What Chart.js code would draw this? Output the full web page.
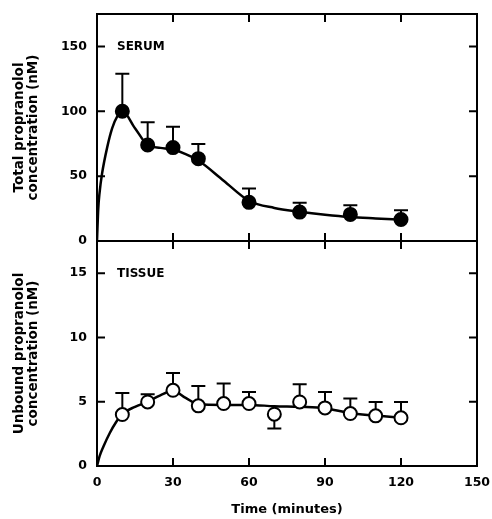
<!DOCTYPE html>
<html><head><meta charset="utf-8">
<script src="https://cdn.jsdelivr.net/npm/chart.js@4.4.1/dist/chart.umd.min.js"></script>
<style>
html,body{margin:0;padding:0;background:#fff;width:492px;height:519px;overflow:hidden}
#top{position:absolute;left:0;top:0;width:492px;height:250px}
#bot{position:absolute;left:0;top:230px;width:492px;height:289px}
canvas{display:block}
</style></head><body>
<div id="top"><canvas id="c1" width="492" height="250"></canvas></div>
<div id="bot"><canvas id="c2" width="492" height="289"></canvas></div>
<script>
// ---- data ----
const serumTime = [10, 20, 30, 40, 60, 80, 100, 120];
const serumMean = [100, 74, 72, 63.5, 29.8, 22.3, 20.5, 16.6];
const serumErrTop = [129, 91.5, 88, 74.8, 40.5, 29.5, 27.5, 23.8];
const serumFitTime  = [0, 0.5, 1, 2, 4, 6, 8, 10, 15, 20, 25, 30, 35, 40, 50, 60, 70, 80, 90, 100, 110, 120];
const serumFitValue = [0, 25, 37, 52, 72, 87, 96, 100, 87, 74, 71.8, 70.5, 67, 62, 46.5, 31, 25.5, 22.6, 20.3, 18.5, 17.4, 16.4];

const tissueTime = [10, 20, 30, 40, 50, 60, 70, 80, 90, 100, 110, 120];
const tissueMean = [4.0, 4.98, 5.89, 4.68, 4.86, 4.86, 4.03, 4.98, 4.52, 4.08, 3.9, 3.75];
const tissueErrEnd = [5.68, 5.58, 7.23, 6.22, 6.41, 5.76, 2.92, 6.36, 5.76, 5.25, 4.98, 4.98];
const tissueFitTime  = [0, 1, 2.5, 5, 7.5, 10, 15, 20, 25, 30, 35, 40, 50, 60, 70, 80, 90, 100, 110, 120];
const tissueFitValue = [0, 0.75, 1.5, 2.55, 3.4, 4.05, 4.6, 5.0, 5.5, 5.85, 5.3, 4.8, 4.75, 4.75, 4.65, 4.6, 4.5, 4.1, 3.92, 3.75];

const xTicks = [0, 30, 60, 90, 120, 150];
const serumTicks = [0, 50, 100, 150];
const tissueTicks = [0, 5, 10, 15];

const FONT = '"DejaVu Sans", sans-serif';
const toXY = (xs, ys) => xs.map((x, i) => ({x, y: ys[i]}));
const zeroPad = s => { s.paddingTop = 0; s.paddingBottom = 0; s.paddingLeft = 0; s.paddingRight = 0; };

const panelDecor = {
  id: 'panelDecor',
  beforeDatasetsDraw(chart, args, opts) {
    const ctx = chart.ctx, xs = chart.scales.x, ys = chart.scales.y;
    ctx.save();
    ctx.strokeStyle = '#000'; ctx.lineWidth = 2; ctx.lineCap = 'butt';
    opts.errT.forEach((t, i) => {
      const x = xs.getPixelForValue(t);
      const y0 = ys.getPixelForValue(opts.errMean[i]);
      const y1 = ys.getPixelForValue(opts.errEnd[i]);
      ctx.beginPath();
      ctx.moveTo(x, y0); ctx.lineTo(x, y1);
      ctx.moveTo(x - 7, y1); ctx.lineTo(x + 7, y1);
      ctx.stroke();
    });
    ctx.restore();
  },
  afterDraw(chart, args, opts) {
    const ctx = chart.ctx, a = chart.chartArea, xs = chart.scales.x, ys = chart.scales.y;
    ctx.save();
    ctx.strokeStyle = '#000'; ctx.lineWidth = 2;
    ctx.strokeRect(a.left, a.top, a.right - a.left, a.bottom - a.top);
    const L = 8;
    ctx.beginPath();
    xs.ticks.forEach(tk => {
      const x = xs.getPixelForValue(tk.value);
      if (x <= a.left + 1 || x >= a.right - 1) return;
      ctx.moveTo(x, a.bottom); ctx.lineTo(x, a.bottom - L);
      ctx.moveTo(x, a.top); ctx.lineTo(x, a.top + L);
    });
    ys.ticks.forEach(tk => {
      const y = ys.getPixelForValue(tk.value);
      if (y >= a.bottom - 1 || y <= a.top + 1) return;
      ctx.moveTo(a.left, y); ctx.lineTo(a.left + L, y);
      ctx.moveTo(a.right, y); ctx.lineTo(a.right - L, y);
    });
    ctx.stroke();
    ctx.fillStyle = '#000';
    ctx.font = 'bold 12px ' + FONT;
    ctx.textBaseline = 'middle'; ctx.textAlign = 'left';
    ctx.fillText(opts.label, a.left + 20, a.top + 33);
    ctx.restore();
  }
};

function makeChart(id, cfg) {
  return new Chart(document.getElementById(id), {
    data: {
      datasets: [
        {type: 'line', data: toXY(cfg.fitT, cfg.fitV), borderColor: '#000', borderWidth: 2.5,
         pointRadius: 0, cubicInterpolationMode: 'monotone', fill: false, order: 2},
        {type: 'scatter', data: toXY(cfg.t, cfg.mean), pointRadius: 6.5, pointHoverRadius: 6.5,
         pointBackgroundColor: cfg.filled ? '#000' : '#fff', pointBorderColor: '#000',
         pointBorderWidth: 2, order: 1}
      ]
    },
    options: {
      responsive: false, animation: false, devicePixelRatio: 1,
      layout: {padding: cfg.padding},
      plugins: {legend: {display: false}, tooltip: {enabled: false},
        panelDecor: {label: cfg.label, errT: cfg.t, errMean: cfg.mean, errEnd: cfg.errEnd}},
      scales: {
        x: {type: 'linear', min: 0, max: 150, display: cfg.showX,
            afterBuildTicks: s => { s.ticks = xTicks.map(v => ({value: v})); },
            afterFit: s => { if (cfg.showX) s.height = 53; zeroPad(s); },
            grid: {display: false, drawTicks: false}, border: {display: false},
            ticks: {color: '#000', padding: 9, maxRotation: 0, font: {family: FONT, weight: 'bold', size: 12.5}},
            title: {display: true, text: 'Time (minutes)', color: '#000', padding: {top: 0, bottom: 2},
                    font: {family: FONT, weight: 'bold', size: 13, lineHeight: 1.2}}},
        y: {type: 'linear', min: 0, max: cfg.ymax,
            afterBuildTicks: s => { s.ticks = cfg.yTicks.map(v => ({value: v})); },
            afterFit: s => { s.width = 97; zeroPad(s); },
            grid: {display: false, drawTicks: false}, border: {display: false},
            ticks: {color: '#000', padding: 10, font: {family: FONT, weight: 'bold', size: 12.5}},
            title: {display: true, text: cfg.ytitle, color: '#000', padding: {top: 13, bottom: 0},
                    font: {family: FONT, weight: 'bold', size: 13.5, lineHeight: 1.0}}}
      }
    },
    plugins: [panelDecor]
  });
}

makeChart('c1', {fitT: serumFitTime, fitV: serumFitValue, t: serumTime, mean: serumMean, errEnd: serumErrTop,
  filled: true, label: 'SERUM', ymax: 175, yTicks: serumTicks, showX: false,
  ytitle: ['Total propranolol', 'concentration (nM)'], padding: {left: 0, right: 15, top: 14, bottom: 9}});
makeChart('c2', {fitT: tissueFitTime, fitV: tissueFitValue, t: tissueTime, mean: tissueMean, errEnd: tissueErrEnd,
  filled: false, label: 'TISSUE', ymax: 17.5, yTicks: tissueTicks, showX: true,
  ytitle: ['Unbound propranolol', 'concentration (nM)'], padding: {left: 0, right: 15, top: 11, bottom: 0}});
</script>
</body></html>
